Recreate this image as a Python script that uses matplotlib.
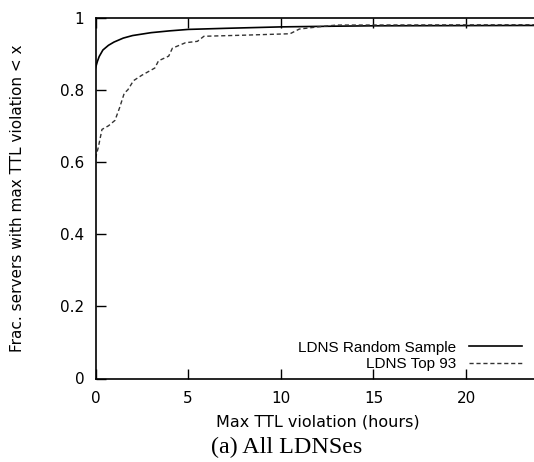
import matplotlib.pyplot as plt
import numpy as np

# Data (hours, CDF fraction)
random_x = [0, 0.1, 0.2, 0.4, 0.7, 1.0, 1.5, 2.0, 3.0, 4.0, 5.0, 7.0, 10.0, 13.0, 15.0, 24.0]
random_y = [0.86, 0.878, 0.892, 0.910, 0.923, 0.932, 0.943, 0.950, 0.958, 0.963,
            0.967, 0.970, 0.974, 0.976, 0.977, 0.978]

top93_x = [0, 0.15, 0.35, 0.7, 1.05, 1.3, 1.55, 1.75, 2.05, 2.5, 3.2, 3.4, 3.95, 4.15,
           4.85, 5.5, 5.85, 8.0, 10.5, 11.0, 12.0, 13.0, 24.0]
top93_y = [0.61, 0.64, 0.69, 0.70, 0.715, 0.75, 0.79, 0.80, 0.825, 0.84, 0.86, 0.88,
           0.893, 0.915, 0.930, 0.934, 0.948, 0.951, 0.955, 0.968, 0.974, 0.979, 0.98]

xticks = [0, 5, 10, 15, 20]
yticks = [0, 0.2, 0.4, 0.6, 0.8, 1]
ytick_labels = ['0', '0.2', '0.4', '0.6', '0.8', '1']

plt.rcParams['font.family'] = ['DejaVu Sans']

W, H = 534, 462
fig = plt.figure(figsize=(W / 100, H / 100), dpi=100)

# axes box in pixels: left 95.5, right past the edge, top 17.5, bottom 378.5
left, top, bottom = 95.5, 17.5, 378.5
ax = fig.add_axes([left / W, 1 - bottom / H, 1 - left / W, (bottom - top) / H])

ax.plot(random_x, random_y, color='black', lw=1.2, label='LDNS Random Sample')
ax.plot(top93_x, top93_y, color='#333333', lw=1.0, dashes=(3, 2), label='LDNS Top 93')

ax.set_xlim(0, (W - left) / 18.53)
ax.set_ylim(0, 1)
ax.set_xticks(xticks)
ax.set_yticks(yticks)
ax.set_yticklabels(ytick_labels)

ax.spines['right'].set_visible(False)
for s in ['left', 'bottom', 'top']:
    ax.spines[s].set_linewidth(1.2)
ax.tick_params(direction='in', length=7, width=1, top=True, right=False,
               labelsize=11)
ax.tick_params(axis='y', pad=8)
ax.tick_params(axis='x', pad=9)

ax.set_xlabel('Max TTL violation (hours)', fontsize=11.5, va='center')
ax.set_ylabel('Frac. servers with max TTL violation < x', fontsize=11, va='center')
ax.xaxis.set_label_coords((318 - left) / (W - left), (bottom - 422) / (bottom - top))
ax.yaxis.set_label_coords((18 - left) / (W - left), 0.5)

leg = ax.legend(loc='lower right', bbox_to_anchor=(0.99, 0.0), frameon=False,
                prop={'family': 'Liberation Sans', 'size': 11}, markerfirst=False,
                handlelength=3.5, handletextpad=0.8, borderaxespad=0.1,
                labelspacing=0.15)
for t in leg.get_texts():
    t.set_ha('right')

fig.text(287 / W, 1 - 447 / H, '(a) All LDNSes', ha='center', va='center',
         fontsize=17.3, family='Liberation Serif')

fig.savefig('out.png', dpi=100)
